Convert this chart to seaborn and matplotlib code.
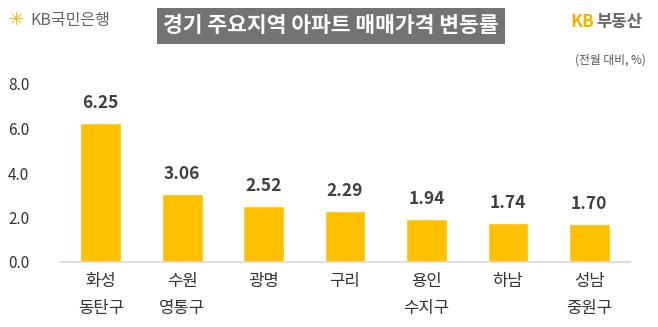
import matplotlib
matplotlib.use("Agg")
import matplotlib.pyplot as plt
import seaborn as sns
import pandas as pd
from matplotlib.patches import Rectangle

regions = ["화성\n동탄구", "수원\n영통구", "광명", "구리", "용인\n수지구", "하남", "성남\n중원구"]
values = [6.25, 3.06, 2.52, 2.29, 1.94, 1.74, 1.70]
yticks = [0.0, 2.0, 4.0, 6.0, 8.0]

sns.set_theme(style="white")
plt.rcParams['font.family'] = ['Noto Sans CJK KR', 'DejaVu Sans']

df = pd.DataFrame({"region": regions, "value": values})

fig = plt.figure(figsize=(6.58, 3.27), dpi=100)
ax = fig.add_axes([60/658, (327-262)/327, 570/658, (262-84)/327])
sns.barplot(data=df, x="region", y="value", color="#FFC000", saturation=1,
            width=0.5, ax=ax)
ax.set_ylim(0, 8)
ax.set_xlim(-0.5, len(regions) - 0.5)
ax.set_yticks(yticks)
ax.set_yticklabels([f"{t:.1f}" for t in yticks], fontsize=11, color="#333333")
ax.set_xticks(range(len(regions)))
ax.set_xticklabels(regions, fontsize=12, color="#333333", linespacing=1.75, va="top")
ax.set_xlabel("")
ax.set_ylabel("")
ax.tick_params(axis="both", length=0)
ax.tick_params(axis="x", pad=8)
ax.tick_params(axis="y", pad=22)
for s in ["top", "right", "left"]:
    ax.spines[s].set_visible(False)
ax.spines["bottom"].set_color("#d9d9d9")
ax.spines["bottom"].set_linewidth(1.2)

for i, v in enumerate(values):
    ax.annotate(f"{v:.2f}", (i, v), xytext=(0, 8), textcoords="offset points",
                ha="center", va="bottom", fontsize=12.5, fontweight="bold", color="#404040")

# title box
fig.patches.append(Rectangle((157/658, 1 - 44/327), (505-157)/658, 36/327,
                             transform=fig.transFigure, facecolor="#737373",
                             edgecolor="none"))
fig.text(331/658, 1 - 26/327, "경기 주요지역 아파트 매매가격 변동률", ha="center", va="center",
         fontsize=15.5, fontweight="bold", color="white")

# logos
fig.text(9/658, 1 - 20/327, "✳", ha="left", va="center", fontsize=13, color="#F2B400",
         family=['DejaVu Sans'])
fig.text(30/658, 1 - 20/327, "KB국민은행", ha="left", va="center", fontsize=11.5,
         color="#666666")
fig.text(570/658, 1 - 22/327, "KB", ha="left", va="center", fontsize=12.5,
         fontweight="bold", color="#F2B400")
fig.text(596/658, 1 - 22/327, "부동산", ha="left", va="center", fontsize=12,
         fontweight="bold", color="#666666")
fig.text(646/658, 1 - 60/327, "(전월 대비, %)", ha="right", va="center", fontsize=8.5,
         color="#555555")

fig.savefig("out.png", dpi=100)
